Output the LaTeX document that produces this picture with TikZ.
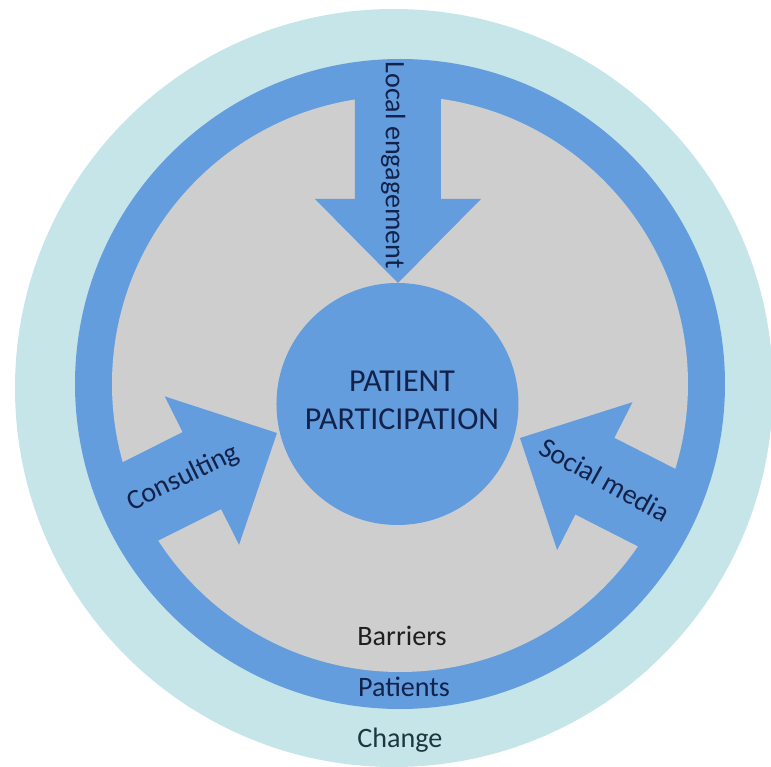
\documentclass[tikz,border=0pt]{standalone}
\usepackage{fontspec}
\setmainfont{Carlito}
\usepackage{tikz}
\usetikzlibrary{positioning}
\usepackage{xcolor}
\definecolor{ringCyan}{RGB}{197, 229, 233}
\definecolor{ringBlue}{RGB}{99, 157, 221}
\definecolor{coreGrey}{RGB}{206, 206, 206}
\definecolor{inkNavy}{RGB}{18, 34, 74}
\definecolor{inkTeal}{RGB}{28, 56, 62}

\begin{document}
\begin{tikzpicture}[x=0.2mm, y=0.2mm,
    label/.style={inner sep=0pt, text=inkNavy, font=\fontsize{16}{19}\selectfont},
    title/.style={inner sep=0pt, text=inkNavy, align=center, font=\fontsize{18.2}{21.6}\selectfont}]
  \useasboundingbox (-400,-383) rectangle (371,384);

  % Rings
  \fill[ringCyan] (-6,-4) circle (379);
  \fill[ringBlue] (0,0) circle (325);
  \fill[coreGrey] (0,0) circle (288);

  % Block arrows (tip, direction)
  \begin{scope}
    \clip (0,0) circle (310);
    \foreach \tx/\ty/\ang in {-2/101/-90, -123/-49/26.6, 120/-54/153}
      \fill[ringBlue, shift={(\tx,\ty)}, rotate=\ang]
        (0,0) -- (-84,83) -- (-84,43) -- (-400,43) -- (-400,-43)
        -- (-84,-43) -- (-84,-83) -- cycle;
  \end{scope}

  % Centre
  \node (core) [circle, fill=ringBlue, inner sep=0pt, minimum size=48.4mm] at (-2.5,-20) {};
  \node (title) [title] at (2,-16) {PATIENT\\PARTICIPATION};

  % Arrow labels
  \node (local) [label, anchor=base, rotate=-90] at (-14,219) {Local engagement};
  \node (consult) [label, rotate=26] at (-217,-94) {Consulting};
  \node (social) [label, rotate=-29] at (205,-96) {Social media};

  % Ring labels
  \node (barriers) [label, anchor=base, text=black!88] at (2,-262) {Barriers};
  \node (patients) [label, anchor=base] at (4,-313) {Patients};
  \node (change) [label, anchor=base, text=inkTeal] at (0,-363) {Change};
\end{tikzpicture}
\end{document}
